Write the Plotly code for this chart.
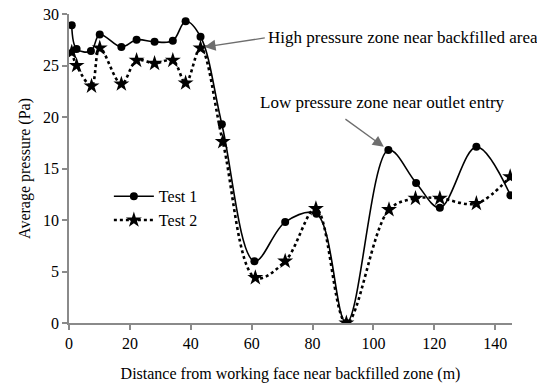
import plotly.graph_objects as go

x_test1 = [0.9, 2.5, 7.2, 10.1, 17.2, 22.2, 28.1, 34.1, 38.3, 43.2, 50.2, 60.9, 71.0, 81.3, 91.1, 104.9, 114.0, 121.8, 133.8, 145.0]
y_test1 = [28.9, 26.6, 26.4, 28.0, 26.8, 27.5, 27.3, 27.4, 29.3, 27.8, 19.3, 6.0, 9.8, 10.6, 0.0, 16.8, 13.6, 11.2, 17.1, 12.4]
x_test2 = [0.9, 2.5, 7.4, 10.1, 17.2, 22.2, 28.1, 34.1, 38.3, 43.2, 50.5, 61.2, 71.0, 81.1, 91.1, 105.1, 113.8, 121.8, 133.8, 144.9]
y_test2 = [26.3, 25.0, 23.0, 26.7, 23.2, 25.5, 25.2, 25.5, 23.3, 26.7, 17.6, 4.4, 6.0, 11.1, 0.0, 11.0, 12.1, 12.1, 11.6, 14.2]

x_ticks = [0, 20, 40, 60, 80, 100, 120, 140]
y_ticks = [0, 5, 10, 15, 20, 25, 30]

FONT = "Liberation Serif"
AXIS_GRAY = "#8a8a8a"

fig = go.Figure()
fig.add_trace(go.Scatter(
    x=x_test1, y=y_test1, name="Test 1", mode="lines+markers",
    line=dict(color="black", width=1.6, shape="spline", smoothing=1.0),
    marker=dict(symbol="circle", size=8, color="black"),
))
fig.add_trace(go.Scatter(
    x=x_test2, y=y_test2, name="Test 2", mode="lines+markers",
    line=dict(color="black", width=2.6, dash="dot", shape="spline", smoothing=1.0),
    marker=dict(symbol="star", size=12, color="black"),
))

arrow_style = dict(showarrow=True, arrowhead=2, arrowsize=1.7, arrowwidth=1.3,
                   arrowcolor="#6e6e6e", xref="x", yref="y", axref="x", ayref="y", text="")
fig.add_annotation(x=44.5, y=26.8, ax=64.8, ay=27.7, **arrow_style)
fig.add_annotation(x=103.4, y=17.1, ax=90.3, ay=19.9, **arrow_style)

fig.add_annotation(x=64.8, y=27.7, xref="x", yref="y", text="High pressure zone near backfilled area",
                   showarrow=False, xanchor="left", yanchor="middle",
                   font=dict(family=FONT, size=17, color="black"))
fig.add_annotation(x=62.0, y=21.4, xref="x", yref="y", text="Low pressure zone near outlet entry",
                   showarrow=False, xanchor="left", yanchor="middle",
                   font=dict(family=FONT, size=17, color="black"))

fig.update_layout(
    width=537, height=387,
    margin=dict(l=69, r=25, t=14, b=64),
    plot_bgcolor="white", paper_bgcolor="white",
    font=dict(family=FONT, size=16, color="black"),
    showlegend=True,
    legend=dict(x=0.09, y=0.465, xanchor="left", yanchor="top",
                bgcolor="rgba(0,0,0,0)", font=dict(family=FONT, size=16),
                tracegroupgap=0, itemwidth=40),
)
fig.update_xaxes(
    range=[0, 145.5], tickvals=x_ticks, showgrid=False, zeroline=False,
    showline=True, linecolor=AXIS_GRAY, linewidth=1.5,
    ticks="outside", tickcolor=AXIS_GRAY, ticklen=5, tickwidth=1.5,
    automargin=False,
    title=dict(text="Distance from working face near backfilled zone (m)", standoff=17,
               font=dict(family=FONT, size=16)),
)
fig.update_yaxes(
    range=[0, 30], tickvals=y_ticks, showgrid=False, zeroline=False,
    showline=True, linecolor=AXIS_GRAY, linewidth=1.5,
    ticks="outside", tickcolor=AXIS_GRAY, ticklen=5, tickwidth=1.5,
    automargin=False,
    title=dict(text="Average pressure (Pa)", standoff=8, font=dict(family=FONT, size=16)),
)

fig.write_html("out.html")
